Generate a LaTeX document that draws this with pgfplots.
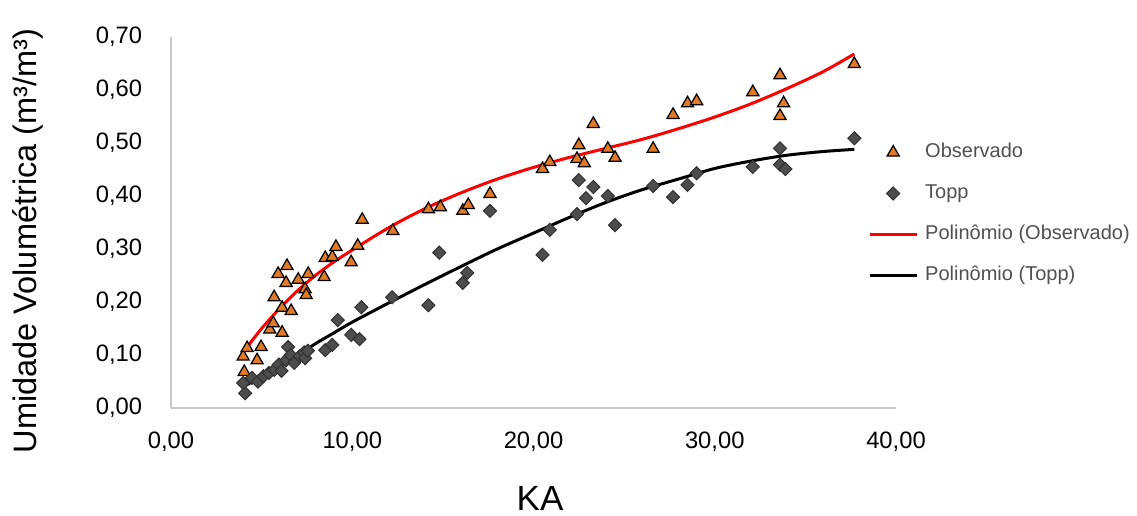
\documentclass[border=0pt]{standalone}
\usepackage{pgfplots}
\pgfplotsset{compat=1.18}
\usepackage{fontspec}
\setmainfont{Liberation Sans}

\definecolor{obsfill}{HTML}{E07A26}
\definecolor{toppfill}{HTML}{4D4D4D}
\definecolor{toppdraw}{HTML}{303030}
\definecolor{axisgray}{HTML}{C8C8C8}
\definecolor{legtext}{HTML}{505050}

\begin{document}
\begin{tikzpicture}
\begin{axis}[
    scale only axis,
    width=290pt, height=148.4pt,
    xmin=0, xmax=40, ymin=0, ymax=0.7,
    xtick={0,10,20,30,40},
    ytick={0,0.1,0.2,0.3,0.4,0.5,0.6,0.7},
    axis x line=bottom, axis y line=left,
    axis line style={-, draw=axisgray, line width=0.6pt},
    major tick length=0pt,
    /pgf/number format/.cd, use comma, fixed, fixed zerofill, precision=2, assume math mode=true,
    /pgfplots/.cd,
    ticklabel style={font=\fontsize{9.5}{11}\selectfont, text=black},
    xticklabel style={yshift=-6pt},
    yticklabel style={xshift=-8pt},
    xlabel={KA},
    xlabel style={font=\fontsize{14}{16}\selectfont, at={(axis description cs:0.509,-0.2426)}, anchor=center},
    ylabel={Umidade Volumétrica (m³/m³)},
    ylabel style={font=\fontsize{13}{15}\selectfont, at={(axis description cs:-0.197,0.45)}, anchor=center, rotate=0},
    legend style={draw=none, fill=none, inner sep=0pt, at={(axis description cs:0.961,0.717)}, anchor=north west,
        font=\fontsize{8}{9}\selectfont, text=legtext,
        nodes={inner sep=0pt, text height=6pt, text depth=2pt, anchor=west},
        row sep=8.4pt, column sep=2.8pt},
    legend cell align=left,
    legend image code/.code={\draw[mark repeat=2, mark phase=2, #1] plot coordinates {(0pt,0pt) (9.4pt,0pt) (18.8pt,0pt)};},
    clip=false,
]
\addplot[only marks, mark=triangle*, mark size=2.8pt, mark options={fill=obsfill, draw=black, line width=0.5pt}] coordinates {
(3.98,0.097) (4.04,0.068) (4.20,0.113) (4.75,0.090) (4.97,0.115)
(5.45,0.148) (5.64,0.160) (5.69,0.209) (5.91,0.253) (6.13,0.142)
(6.13,0.189) (6.35,0.236) (6.40,0.268) (6.63,0.183) (7.02,0.242)
(7.40,0.224) (7.46,0.213) (7.57,0.253) (8.45,0.247) (8.51,0.283)
(8.90,0.285) (9.10,0.304) (9.94,0.275) (10.30,0.306) (10.55,0.355)
(12.24,0.334) (14.20,0.375) (14.86,0.379) (16.10,0.372) (16.40,0.383)
(17.60,0.404) (20.50,0.451) (20.90,0.464) (22.40,0.470) (22.50,0.496)
(22.80,0.462) (23.30,0.536) (24.10,0.489) (24.50,0.472) (26.60,0.489)
(27.70,0.553) (28.50,0.575) (29.00,0.579) (32.10,0.596) (33.60,0.628)
(33.80,0.575) (33.60,0.551) (37.70,0.649)
};
\addlegendentry{Observado}
\addplot[only marks, mark=square*, mark size=1.85pt, mark options={rotate=45, fill=toppfill, draw=toppdraw, line width=0.4pt}] coordinates {
(4.09,0.028) (3.98,0.047) (4.47,0.057) (4.80,0.050) (5.10,0.060)
(5.40,0.066) (5.70,0.072) (5.95,0.082) (6.10,0.070) (6.35,0.090)
(6.46,0.115) (6.60,0.100) (6.80,0.085) (7.10,0.098) (7.35,0.105)
(7.40,0.094) (7.55,0.108) (8.51,0.109) (8.90,0.119) (9.20,0.166)
(9.94,0.138) (10.40,0.130) (10.50,0.190) (12.20,0.209) (14.20,0.194)
(14.80,0.293) (16.10,0.236) (16.35,0.255) (17.60,0.372) (20.50,0.289)
(20.90,0.336) (22.40,0.366) (22.50,0.430) (22.90,0.396) (23.30,0.417)
(24.10,0.400) (24.50,0.345) (26.60,0.419) (27.70,0.398) (28.50,0.421)
(29.00,0.443) (32.10,0.455) (33.60,0.490) (33.60,0.459) (33.90,0.451)
(37.70,0.509)
};
\addlegendentry{Topp}
\addplot[red, line width=1.2pt, smooth, mark=none] coordinates {
(4,0.106) (5,0.150) (6,0.188) (7,0.222) (8,0.251) (9,0.276) (10,0.298)
(12,0.340) (14,0.376) (16,0.406) (18,0.432) (20,0.454) (22,0.473)
(24,0.490) (26,0.507) (28,0.527) (30,0.549) (32,0.574) (34,0.603)
(36,0.635) (37.7,0.668)
};
\addlegendentry{Polinômio (Observado)}
\addplot[black, line width=1.2pt, smooth, mark=none] coordinates {
(4,0.040) (5,0.060) (6,0.080) (7,0.100) (8,0.122) (9,0.142) (10,0.162)
(12,0.198) (14,0.233) (16,0.267) (18,0.300) (20,0.330) (22,0.360)
(24,0.388) (26,0.412) (28,0.432) (30,0.452) (32,0.466) (34,0.477)
(36,0.484) (37.7,0.488)
};
\addlegendentry{Polinômio (Topp)}
\end{axis}
\pgfresetboundingbox
\path (-68.4pt,-42.8pt) rectangle (386.4pt,163.2pt);
\end{tikzpicture}
\end{document}
